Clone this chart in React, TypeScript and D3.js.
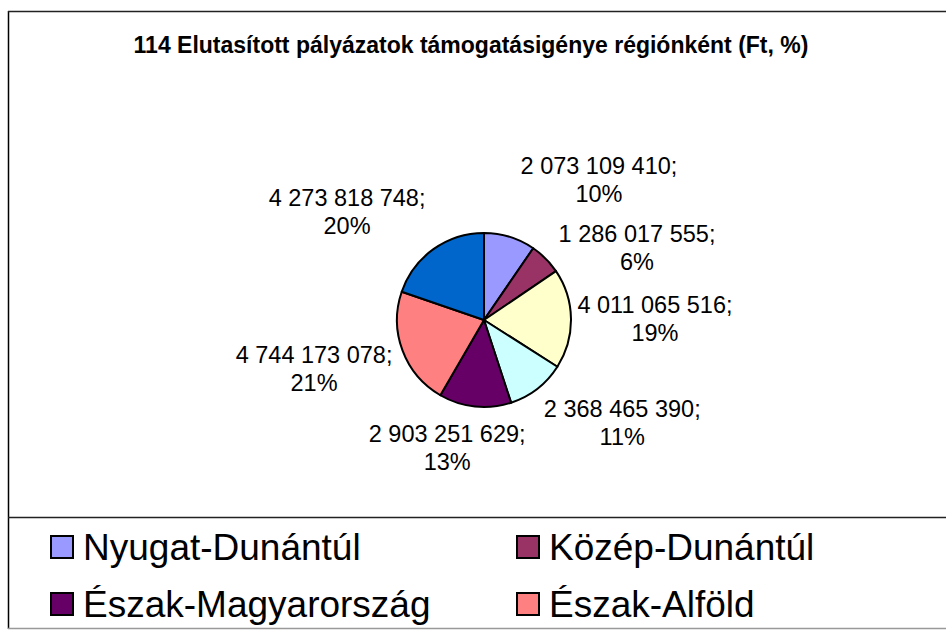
import React from "react";
import * as d3 from "d3";

const TITLE = "114 Elutasított pályázatok támogatásigénye régiónként (Ft, %)";
const categories = [
  "Nyugat-Dunántúl",
  "Közép-Dunántúl",
  "Közép-Magyarország",
  "Dél-Dunántúl",
  "Észak-Magyarország",
  "Észak-Alföld",
  "Dél-Alföld",
];
const values = [
  2073109410, 1286017555, 4011065516, 2368465390, 2903251629, 4744173078, 4273818748,
];
const percentLabels = ["10%", "6%", "19%", "11%", "13%", "21%", "20%"];
const colors = ["#9999FF", "#993366", "#FFFFCC", "#CCFFFF", "#660066", "#FF8080", "#0066CC"];
// legend entries visible in the (cropped) legend box
const legendItems = [0, 1, 4, 5];

// label layout: radius of anchor along slice bisector and box alignment
const labelLayout = [
  { r: 118, fx: 1, fy: -1 },
  { r: 103, fx: 1, fy: 0 },
  { r: 91, fx: 1, fy: 0 },
  { r: 95, fx: 1, fy: 1 },
  { r: 100, fx: -0.33, fy: 1 },
  { r: 96, fx: -1, fy: 0.54 },
  { r: 98, fx: -1, fy: -1 },
];

const W = 946;
const H = 630;
const CX = 484;
const CY = 320;
const R = 87;
const FONT = "'Liberation Sans', Arial, Helvetica, sans-serif";

function fmt(v: number) {
  return String(v).replace(/\B(?=(\d{3})+(?!\d))/g, " ");
}

export default function App() {
  const pie = d3.pie<number>().value((d) => d).sort(null);
  const arcs = pie(values);
  const arc = d3.arc<d3.PieArcDatum<number>>().innerRadius(0).outerRadius(R);
  const halfW = 80;
  const halfH = 28;
  const lineH = 28;

  return (
    <svg
      width={W}
      height={H}
      style={{ position: "absolute", left: 0, top: 0, background: "#fff" }}
      fontFamily={FONT}
    >
      <rect x={0} y={0} width={W} height={H} fill="#fff" />
      {/* chart border */}
      <line x1={8.5} y1={11} x2={8.5} y2={629} stroke="#000" strokeWidth={1.5} />
      <line x1={8} y1={11.5} x2={W} y2={11.5} stroke="#222" strokeWidth={1.5} />
      <line x1={8} y1={517.5} x2={W} y2={517.5} stroke="#222" strokeWidth={1.5} />
      <line x1={8} y1={628.5} x2={W} y2={628.5} stroke="#999" strokeWidth={1.5} />

      <text x={471} y={53} textAnchor="middle" fontWeight="bold" fontSize={23} fill="#000">
        {TITLE}
      </text>

      <g transform={`translate(${CX},${CY})`}>
        {arcs.map((a, i) => (
          <path key={i} d={arc(a) || ""} fill={colors[i]} stroke="#000" strokeWidth={2} strokeLinejoin="round" />
        ))}
      </g>

      {arcs.map((a, i) => {
        const mid = (a.startAngle + a.endAngle) / 2;
        const L = labelLayout[i];
        const ax = CX + L.r * Math.sin(mid);
        const ay = CY - L.r * Math.cos(mid);
        const cx = ax + L.fx * halfW;
        const cy = ay + L.fy * halfH;
        return (
          <text key={i} textAnchor="middle" fontSize={23.5} fill="#000">
            <tspan x={cx} y={cy - lineH / 2} dy="0.35em">{fmt(values[i]) + ";"}</tspan>
            <tspan x={cx} y={cy + lineH / 2} dy="0.35em">{percentLabels[i]}</tspan>
          </text>
        );
      })}

      {legendItems.map((idx, k) => {
        const col = k % 2;
        const row = Math.floor(k / 2);
        const x0 = 51 + col * 466;
        const base = 560 + row * 57;
        return (
          <g key={idx}>
            <rect x={x0} y={base - 24} width={22} height={22} fill={colors[idx]} stroke="#000" strokeWidth={2} />
            <text x={x0 + 32} y={base} fontSize={37} fill="#000">
              {categories[idx]}
            </text>
          </g>
        );
      })}
    </svg>
  );
}
